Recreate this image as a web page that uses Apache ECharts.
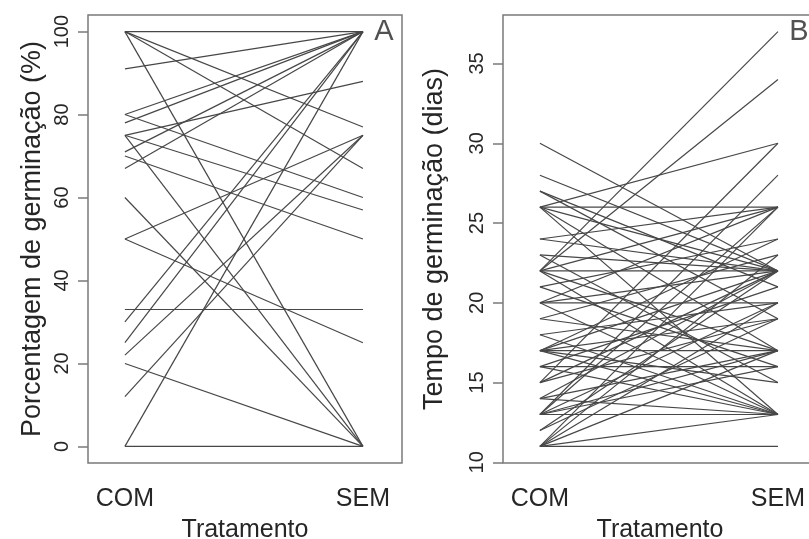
<!DOCTYPE html>
<html>
<head>
<meta charset="utf-8">
<script src="https://cdn.jsdelivr.net/npm/echarts@6/dist/echarts.min.js"></script>
<style>
  html, body { margin: 0; padding: 0; background: #fff; }
  #chart { width: 809px; height: 539px; }
</style>
</head>
<body>
<div id="chart"></div>
<script>
// ---- data ----
const categories = ['COM', 'SEM'];

// Panel A: Porcentagem de germinação (%)
const panelA_com = [100, 100, 100, 100, 91, 80, 80, 78, 75, 75, 75, 71, 70, 67, 60, 50, 50, 33, 30, 25, 22, 20, 12, 0, 0];
const panelA_sem = [100, 77, 67, 0, 100, 100, 60, 100, 88, 57, 0, 100, 50, 100, 0, 75, 25, 33, 100, 100, 75, 0, 75, 100, 0];

// Panel B: Tempo de germinação (dias)
const panelB_com = [30, 28, 27, 27, 26, 26, 26, 26, 26, 24, 24, 23, 23, 22, 22, 22, 22, 22, 22, 21, 21, 20, 20, 20, 20, 19, 19, 18, 18, 17, 17, 17, 17, 17, 17, 16, 16, 16, 15, 15, 15, 14, 14, 14, 13, 13, 13, 13, 13, 13, 12, 12, 11, 11, 11, 11, 11, 11];
const panelB_sem = [22, 22, 21, 19, 26, 30, 17, 13, 22, 22, 26, 22, 15, 22, 37, 34, 26, 17, 13, 16, 24, 20, 26, 13, 22, 23, 17, 13, 20, 17, 22, 24, 13, 15, 19, 16, 21, 13, 22, 30, 19, 17, 22, 13, 13, 28, 26, 20, 17, 16, 19, 22, 11, 13, 17, 20, 26, 23];

const ticksA = [0, 20, 40, 60, 80, 100];
const ticksB = [10, 15, 20, 25, 30, 35];
const panelLetters = ['A', 'B'];

// ---- chart ----
const FONT = 'Liberation Sans, Arial, Helvetica, sans-serif';
const TXT = '#262626';
const BOX = '#7a7a7a';
const LINE = '#474747';

function pairSeries(com, sem, idx) {
  return com.map((c, i) => ({
    type: 'line',
    xAxisIndex: idx, yAxisIndex: idx,
    data: [[1, c], [2, sem[i]]],
    symbol: 'none', silent: true, animation: false,
    lineStyle: { color: LINE, width: 1.2 }
  }));
}

function xAxisCfg(idx) {
  return {
    gridIndex: idx, type: 'value', min: 0.845, max: 2.164,
    axisLine: { show: false }, axisTick: { show: false }, splitLine: { show: false },
    axisLabel: {
      customValues: [1, 2],
      formatter: v => categories[Math.round(v) - 1] || '',
      margin: 24, fontSize: 25, color: TXT, fontFamily: FONT
    },
    name: 'Tratamento', nameLocation: 'middle', nameGap: 55,
    nameTextStyle: { fontSize: 25, color: TXT, fontFamily: FONT }
  };
}

function yAxisCfg(idx, min, max, ticks, name, gap) {
  return {
    gridIndex: idx, type: 'value', min: min, max: max,
    axisLine: { show: false },
    splitLine: { show: false },
    axisTick: { show: true, customValues: ticks, length: 10, lineStyle: { color: BOX, width: 1.5 } },
    axisLabel: { customValues: ticks, rotate: 90, margin: 16, fontSize: 20, color: TXT, fontFamily: FONT },
    name: name, nameLocation: 'middle', nameGap: gap, nameRotate: 90,
    nameTextStyle: { fontSize: 27, color: TXT, fontFamily: FONT }
  };
}

function letterSeries(idx, letter, yv) {
  return {
    type: 'scatter', xAxisIndex: idx, yAxisIndex: idx,
    data: [[2.088, yv]], symbolSize: 0, silent: true, animation: false,
    label: { show: true, position: 'inside', formatter: letter, fontSize: 29, color: TXT, fontFamily: FONT }
  };
}

const gridBase = { top: 15, bottom: 76, show: true, borderColor: BOX, borderWidth: 1.5, backgroundColor: 'transparent', containLabel: false, outerBoundsMode: 'none' };

const chart = echarts.init(document.getElementById('chart'), null, { renderer: 'canvas' });
chart.setOption({
  backgroundColor: '#fff',
  animation: false,
  grid: [
    Object.assign({ left: 88, right: 407 }, gridBase),
    Object.assign({ left: 503, right: -8 }, gridBase)
  ],
  xAxis: [xAxisCfg(0), xAxisCfg(1)],
  yAxis: [
    yAxisCfg(0, -4, 104, ticksA, 'Porcentagem de germinação (%)', 42),
    yAxisCfg(1, 9.96, 38.04, ticksB, 'Tempo de germinação (dias)', 55)
  ],
  series: [
    ...pairSeries(panelA_com, panelA_sem, 0),
    ...pairSeries(panelB_com, panelB_sem, 1),
    letterSeries(0, panelLetters[0], 100),
    letterSeries(1, panelLetters[1], 37)
  ]
});
</script>
</body>
</html>
